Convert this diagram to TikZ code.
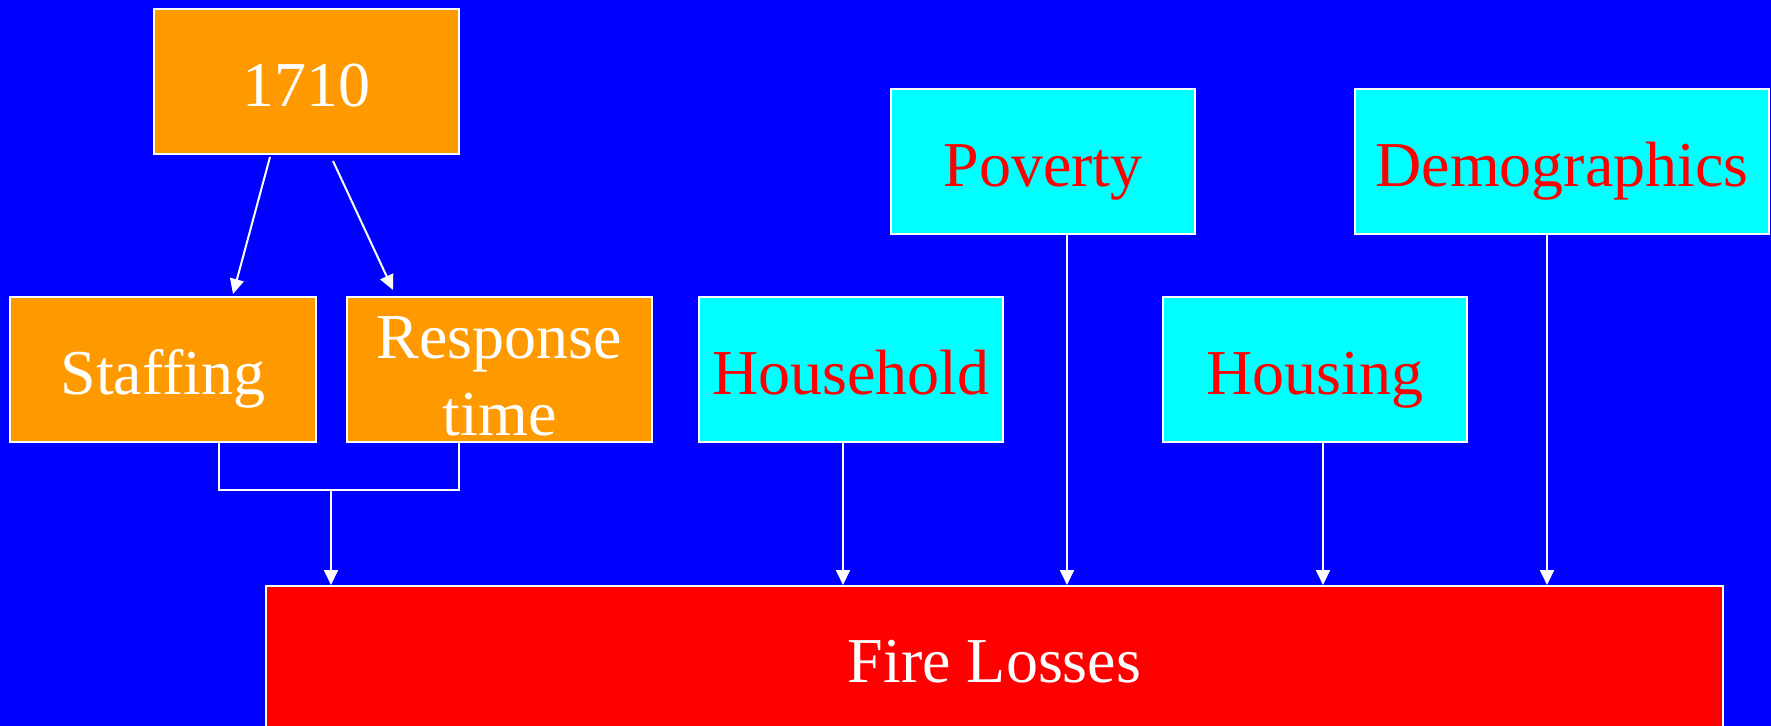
\documentclass[tikz,border=0pt]{standalone}
\usepackage{fontspec}
\setmainfont{Liberation Serif}
\usetikzlibrary{arrows.meta,calc}
\definecolor{bgblue}{RGB}{0,0,255}
\definecolor{orng}{RGB}{255,153,0}
\definecolor{cyn}{RGB}{0,255,255}
\definecolor{rd}{RGB}{255,0,0}
\begin{document}
\begin{tikzpicture}[x=0.5pt,y=-0.5pt,
  box/.style={draw=white,line width=1pt,inner sep=0pt,minimum height=72.5pt,
    font=\fontsize{32}{38.5}\selectfont,align=center,text height=25pt,text depth=0pt},
  obox/.style={box,fill=orng,text=white},
  cbox/.style={box,fill=cyn,text=rd},
  ln/.style={draw=white,line width=1pt},
  arr/.style={ln,-{Triangle[length=7.5pt,width=7pt]}}]
\fill[bgblue] (0,0) rectangle (1771,726);
\useasboundingbox (0,0) rectangle (1771,726);
% nodes
\node[obox,minimum width=152.5pt] (n1710) at (306.5,81.5) {1710};
\node[obox,minimum width=153pt] (staff) at (163,369.5) {Staffing};
\node[obox,minimum width=152.5pt,text height=66pt,text depth=0pt] (resp) at (499.5,369.5) {Response\\time};
\node[cbox,minimum width=152pt] (house) at (851,370) {Household};
\node[cbox,minimum width=152pt] (housing) at (1315,370) {Housing};
\node[cbox,minimum width=152pt] (pov) at (1043,161.5) {Poverty};
\node[cbox,minimum width=207pt] (demo) at (1562,161.5) {Demographics};
\node[box,fill=rd,text=white,minimum width=728.5pt,minimum height=74pt,text height=22pt] (fire) at (994.5,660) {Fire Losses};
% connectors from 1710
\draw[arr] ([xshift=-18.25pt,yshift=-1pt]n1710.south) -- ([xshift=35pt,yshift=1pt]staff.north);
\draw[arr] ([xshift=13.25pt,yshift=-3pt]n1710.south) -- ([xshift=-53.25pt,yshift=3pt]resp.north);
% elbow connector
\coordinate (j) at (331,490);
\draw[ln] ([xshift=28pt]staff.south) |- (j) -| ([xshift=-20.25pt]resp.south);
\draw[arr] (j) -- (j |- fire.north);
% others
\coordinate (hb) at ([xshift=-4pt]house.south);
\draw[arr] (hb) -- (hb |- fire.north);
\coordinate (pb) at ([xshift=12pt]pov.south);
\draw[arr] (pb) -- (pb |- fire.north);
\coordinate (gb) at ([xshift=4pt]housing.south);
\draw[arr] (gb) -- (gb |- fire.north);
\coordinate (db) at ([xshift=-7.5pt]demo.south);
\draw[arr] (db) -- (db |- fire.north);
\end{tikzpicture}
\end{document}
